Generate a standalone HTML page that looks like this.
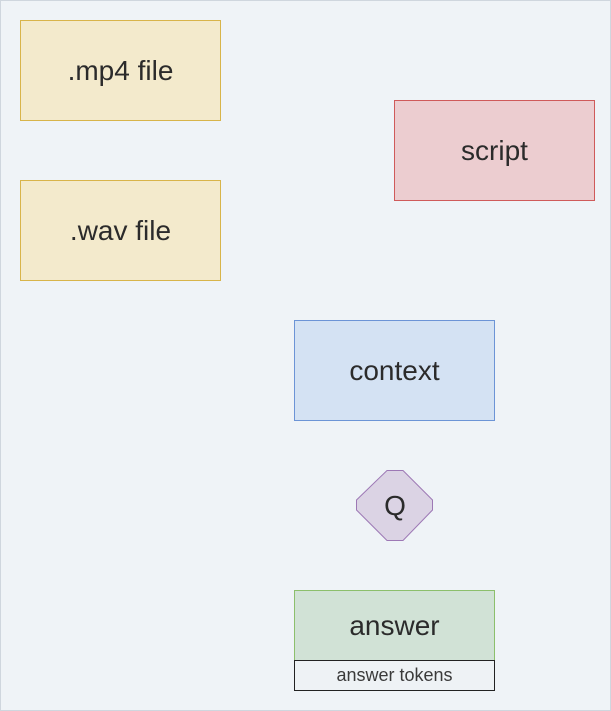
<!DOCTYPE html>
<html><head><style>
html,body{margin:0;padding:0}
body{width:611px;height:711px;position:relative;background:#eff3f7;font-family:"Liberation Sans",sans-serif;color:#2b2b2b;overflow:hidden}
.frame{position:absolute;left:0;top:0;width:609px;height:709px;border:1px solid #cfd6de}
.b{position:absolute;box-sizing:border-box;display:flex;align-items:center;justify-content:center;font-size:28px}
</style></head><body>
<div class="frame"></div>
<div class="b" style="left:20px;top:20px;width:201px;height:101px;background:#f3eacc;border:1px solid #d8b44a">.mp4 file</div>
<div class="b" style="left:20px;top:180px;width:201px;height:101px;background:#f3eacc;border:1px solid #d8b44a">.wav file</div>
<div class="b" style="left:394px;top:100px;width:201px;height:101px;background:#eccdd0;border:1px solid #cf5a5a">script</div>
<div class="b" style="left:294px;top:320px;width:201px;height:101px;background:#d4e2f3;border:1px solid #6c94d6">context</div>
<svg style="position:absolute;left:0;top:0" width="611" height="711">
<polygon points="387,470.5 403,470.5 432.5,500 432.5,510 403,540.5 387,540.5 356.5,510 356.5,500" fill="#dbd3e4" stroke="#9d78b5" stroke-width="1"/>
<text x="395" y="515" text-anchor="middle" font-family="Liberation Sans" font-size="28" fill="#2b2b2b">Q</text>
</svg>
<div class="b" style="left:294px;top:590px;width:201px;height:71px;background:#d1e2d6;border:1px solid #8cbf6c">answer</div>
<div class="b" style="left:294px;top:660px;width:201px;height:31px;background:#eef2f5;border:1px solid #222;font-size:18px;color:#3a3a3a">answer tokens</div>
</body></html>
